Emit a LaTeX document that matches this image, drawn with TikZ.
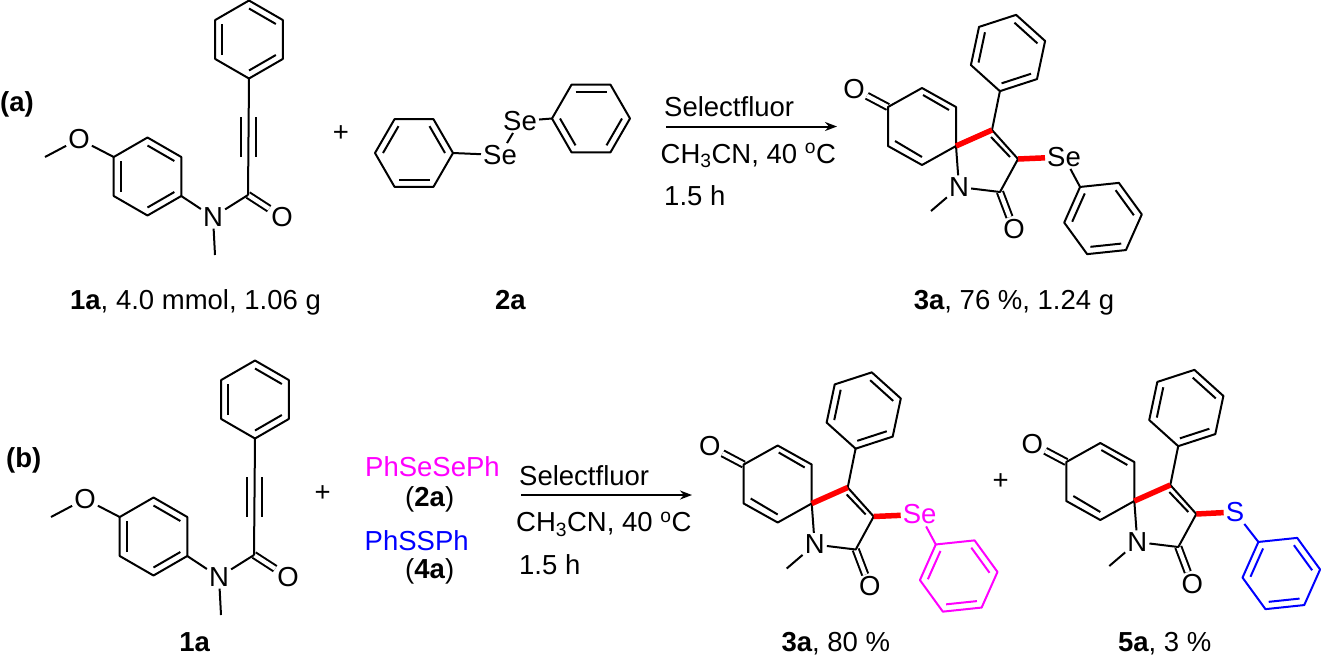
\documentclass[tikz,border=0pt]{standalone}
\usepackage{fontspec}
\setmainfont{Liberation Sans}
\usetikzlibrary{calc,arrows.meta}
\definecolor{seline}{RGB}{255,0,255}
\definecolor{sline}{RGB}{0,0,255}
\definecolor{newbond}{RGB}{255,0,0}
\tikzset{
  every node/.style={font=\fontsize{27.5}{32}\selectfont,inner sep=2pt},
  bond/.style={line width=2pt,line join=round},
  dbl/.style={bond,double,double distance=4.2pt},
  redbond/.style={line width=5.5pt,newbond},
  atom/.style={anchor=center},
  txt/.style={anchor=base west},
  capt/.style={anchor=base},
  rxn/.style={line width=2pt,-{Stealth[length=12pt,width=9pt]}}
}
% phenyl ring: name, centre, first angle, colour
\newcommand{\phring}[4]{%
  \coordinate (#1c) at (#2);
  \foreach \k in {1,...,6}{\coordinate (#1\k) at ($(#1c)+(#3+\k*60-60:39)$);}
  \draw[bond,#4] (#11)--(#12)--(#13)--(#14)--(#15)--(#16)--cycle;
  \foreach \k in {0,2,4}{\draw[bond,#4] ($(#1c)+(#3+\k*60:31)$)--($(#1c)+(#3+\k*60+60:31)$);}
}
% substrate 1a: shift, prefix
\newcommand{\amide}[2]{%
\begin{scope}[shift={(#1)},name prefix=#2]
  \node[atom] (ome) at (79,139) {O};
  \node[atom] (n) at (213,217) {N};
  \node[atom] (o) at (282,217) {O};
  \coordinate (mea) at (45,157);
  \coordinate (meb) at (215,255);
  \coordinate (co) at (248,195);
  \draw[dbl] (co)--(o);
  \phring{ani}{147.5,176.5}{30}{}
  \phring{ph}{249,39.5}{30}{}
  \draw[bond] (mea)--(ome) (ome)--(ani4) (ani1)--(n) (n)--(meb) (n)--(co) (co)--(ph2);
  \draw[bond] (241,117)--(241,157) (255.5,117)--(255.5,157);
\end{scope}}
% product: shift, prefix, atom, colour, atom x
\newcommand{\spiro}[5]{%
\begin{scope}[shift={(#1)},name prefix=#2]
  \node[atom] (oa) at (854,89) {O};
  \node[atom] (n) at (959,187) {N};
  \node[atom] (ob) at (1014,229) {O};
  \node[atom,text=#4] (x) at (#5,157) {#3};
  \coordinate (ca) at (888,107);
  \coordinate (cb) at (922,88);
  \coordinate (cc) at (956,107);
  \coordinate (sp) at (956,146);
  \coordinate (cd) at (922,165);
  \coordinate (ce) at (888,146);
  \coordinate (cf) at (992,130);
  \coordinate (cg) at (1018,159);
  \coordinate (ch) at (1000,192);
  \coordinate (me) at (931,211);
  \draw[dbl] (ca)--(oa);
  \draw[dbl] (ch)--(ob);
  \phring{pa}{1008,53}{42}{}
  \phring{pb}{1103,218.5}{54}{#4}
  \draw[bond] (ca)--(cb)--(cc)--(sp)--(cd)--(ce)--cycle;
  \draw[bond] (923,95)--(949,110) (895,141)--(922,157) (991,137)--(1010,157);
  \draw[bond] (cf)--(cg)--(ch)--(n)--(sp) (n)--(me) (cf)--(pa2);
  \draw[bond,#4] (x)--(pb4);
  \draw[redbond] (sp)--(cf);
  \draw[redbond] (cg)--(x);
\end{scope}}
\begin{document}
\begin{tikzpicture}[x=1pt,y=-1pt]
\useasboundingbox (0,0) rectangle (1321,657);
% (a)
\node[anchor=west,inner sep=0pt] (laba) at (0,104) {\textbf{(a)}};
\amide{0,0}{a-}
\node[capt] (capa1) at (195.5,309) {\textbf{1a}, 4.0 mmol, 1.06 g};
\node[atom] (plusa) at (341,134) {+};
\node[atom] (sea) at (500,155) {Se};
\node[atom] (seb) at (520,121) {Se};
\phring{rl}{414,153}{60}{}
\phring{rr}{591,118.5}{0}{}
\draw[bond] (rl6)--(sea) (sea)--(seb) (seb)--(rr4);
\node[capt] (capa2) at (510.5,309) {\textbf{2a}};
\node[txt] (sfa) at (662,116.5) {Selectfluor};
\coordinate (arra) at (666,126.5);
\coordinate (arrb) at (837,126.5);
\draw[rxn] (arra)--(arrb);
\node[txt] (solva) at (658.5,163) {CH\textsubscript{3}CN, 40 \textsuperscript{o}C};
\node[txt] (timea) at (662,205.5) {1.5 h};
\spiro{0,0}{c-}{Se}{black}{1064}
\node[capt] (capa3) at (1014,309) {\textbf{3a}, 76 \%, 1.24 g};
% (b)
\node[anchor=west,inner sep=0pt] (labb) at (6,460) {\textbf{(b)}};
\amide{6,360}{b-}
\node[capt] (capb1) at (194.7,651) {\textbf{1a}};
\node[atom] (plusb) at (322.7,494) {+};
\node[capt,text=seline] (dise) at (432.5,476.5) {PhSeSePh};
\node[capt] (lab2a) at (429.7,506.5) {(\textbf{2a})};
\node[capt,text=sline] (dis) at (416.7,550.5) {PhSSPh};
\node[capt] (lab4a) at (429.7,578) {(\textbf{4a})};
\node[txt] (sfb) at (517,485) {Selectfluor};
\coordinate (arrc) at (521,495);
\coordinate (arrd) at (692,495);
\draw[rxn] (arrc)--(arrd);
\node[txt] (solvb) at (514,531.5) {CH\textsubscript{3}CN, 40 \textsuperscript{o}C};
\node[txt] (timeb) at (517,574) {1.5 h};
\spiro{-144.3,357.5}{d-}{Se}{seline}{1064}
\node[capt] (capb3) at (835.8,651) {\textbf{3a}, 80 \%};
\node[atom] (plusc) at (1000.7,482) {+};
\spiro{178.3,355}{e-}{S}{sline}{1056.7}
\node[capt] (capb5) at (1164.7,651) {\textbf{5a}, 3 \%};
\end{tikzpicture}
\end{document}
